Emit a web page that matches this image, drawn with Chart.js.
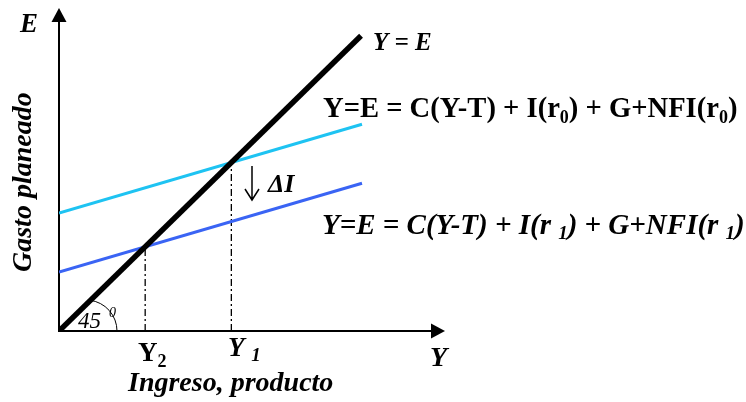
<!DOCTYPE html>
<html>
<head>
<meta charset="utf-8">
<script src="https://cdn.jsdelivr.net/npm/chart.js@4/dist/chart.umd.min.js"></script>
<style>
  html, body { margin: 0; padding: 0; background: #fff; }
  #wrap { width: 746px; height: 402px; }
</style>
</head>
<body>
<div id="wrap"><canvas id="chart" width="746" height="402"></canvas></div>
<script>
// Income (Y) where the planned-expenditure lines start and end
const incomeEnds = [0, 31.4];
// 45 degree line Y = E
const lineYE = [0, 31.3];
// planned expenditure with r0 (cyan) and r1 (blue)
const expenditureR0 = [12.5, 21.92];
const expenditureR1 = [6.25, 15.67];
// equilibrium incomes Y1 and Y2
const equilibrium = [17.86, 8.93];
const axisMax = [40, 34.25];

const serif = "'Liberation Serif', 'Times New Roman', serif";

function pts(xs, ys) {
  return xs.map((x, i) => ({ x: x, y: ys[i] }));
}

// draws a row of text pieces, some of them lowered as subscripts
function drawRuns(ctx, x, y, parts) {
  parts.forEach(p => {
    ctx.font = p.font;
    ctx.fillText(p.t, x, y + (p.dy || 0));
    x += ctx.measureText(p.t).width + (p.gap || 0);
  });
}

const axesPlugin = {
  id: "axes",
  beforeDatasetsDraw(chart) {
    const ctx = chart.ctx;
    const xs = chart.scales.x, ys = chart.scales.y;
    const x0 = xs.getPixelForValue(0), y0 = ys.getPixelForValue(0);
    const xEnd = xs.getPixelForValue(axisMax[0]);
    const yEnd = ys.getPixelForValue(axisMax[1]);

    ctx.save();
    ctx.strokeStyle = "#000";
    ctx.fillStyle = "#000";
    ctx.lineWidth = 2;
    ctx.beginPath();
    ctx.moveTo(x0, y0 + 1);
    ctx.lineTo(x0, yEnd + 10);
    ctx.moveTo(x0 - 1, y0);
    ctx.lineTo(xEnd - 10, y0);
    ctx.stroke();

    // arrow heads
    ctx.beginPath();
    ctx.moveTo(x0, yEnd);
    ctx.lineTo(x0 - 7.5, yEnd + 14);
    ctx.lineTo(x0 + 7.5, yEnd + 14);
    ctx.closePath();
    ctx.fill();
    ctx.beginPath();
    ctx.moveTo(xEnd, y0);
    ctx.lineTo(xEnd - 14, y0 - 7.5);
    ctx.lineTo(xEnd - 14, y0 + 7.5);
    ctx.closePath();
    ctx.fill();

    // 45 degree arc
    ctx.lineWidth = 1;
    ctx.beginPath();
    ctx.arc(x0 + 27, y0, 31, -1.448, 0);
    ctx.stroke();
    ctx.restore();
  },
  afterDraw(chart) {
    const ctx = chart.ctx;
    ctx.save();
    ctx.fillStyle = "#000";
    ctx.textBaseline = "alphabetic";
    ctx.textAlign = "left";

    const bi = s => "italic bold " + s + "px " + serif;
    const b = s => "bold " + s + "px " + serif;

    ctx.font = bi(27);
    ctx.fillText("E", 20, 32);

    ctx.font = bi(25);
    ctx.fillText("Y = E", 373, 50);

    drawRuns(ctx, 323, 117, [
      { t: "Y=E = C(Y-T) + I(r", font: b(28.6) },
      { t: "0", font: b(18), dy: 6 },
      { t: ") + G+NFI(r", font: b(28.6) },
      { t: "0", font: b(18), dy: 6 },
      { t: ")", font: b(28.6) }
    ]);

    drawRuns(ctx, 322, 234, [
      { t: "Y=E = C(Y-T) + I(r ", font: bi(29) },
      { t: "1", font: bi(19), dy: 5 },
      { t: ") + G+NFI(r ", font: bi(29) },
      { t: "1", font: bi(19), dy: 5 },
      { t: ")", font: bi(29) }
    ]);

    // down arrow for the fall in investment
    ctx.strokeStyle = "#000";
    ctx.lineWidth = 1.5;
    ctx.beginPath();
    ctx.moveTo(252, 166);
    ctx.lineTo(252, 200);
    ctx.moveTo(245, 189);
    ctx.lineTo(252, 200);
    ctx.lineTo(259, 189);
    ctx.stroke();
    ctx.font = bi(26);
    ctx.fillText("\u0394I", 268, 192);

    ctx.font = "italic 23px " + serif;
    ctx.fillText("45", 78, 328);
    ctx.font = "italic 14px " + serif;
    ctx.fillText("0", 109, 317);

    drawRuns(ctx, 138, 361, [
      { t: "Y", font: b(27) },
      { t: "2", font: b(18), dy: 6 }
    ]);
    drawRuns(ctx, 228, 356, [
      { t: "Y ", font: bi(27) },
      { t: "1", font: bi(19), dy: 5 }
    ]);

    ctx.font = bi(28);
    ctx.fillText("Y", 430, 366);
    ctx.fillText("Ingreso, producto", 128, 391);

    ctx.save();
    ctx.translate(31, 272);
    ctx.rotate(-Math.PI / 2);
    ctx.fillText("Gasto planeado", 0, 0);
    ctx.restore();

    ctx.restore();
  }
};

const dashDot = [7, 3, 2, 3];

new Chart(document.getElementById("chart"), {
  type: "scatter",
  data: {
    datasets: [
      {
        data: pts(lineYE, lineYE),
        showLine: true,
        borderColor: "#000",
        borderWidth: 5.5,
        pointRadius: 0
      },
      {
        data: pts(incomeEnds, expenditureR0),
        showLine: true,
        borderColor: "#1ec3f2",
        borderWidth: 3,
        pointRadius: 0
      },
      {
        data: pts(incomeEnds, expenditureR1),
        showLine: true,
        borderColor: "#3a64f4",
        borderWidth: 3,
        pointRadius: 0
      },
      {
        data: pts([equilibrium[0], equilibrium[0]], [0, equilibrium[0]]),
        showLine: true,
        borderColor: "#000",
        borderWidth: 1.3,
        borderDash: dashDot,
        pointRadius: 0
      },
      {
        data: pts([equilibrium[1], equilibrium[1]], [0, equilibrium[1]]),
        showLine: true,
        borderColor: "#000",
        borderWidth: 1.3,
        borderDash: dashDot,
        pointRadius: 0
      }
    ]
  },
  options: {
    responsive: false,
    animation: false,
    devicePixelRatio: 1,
    layout: { padding: { left: 59, right: 301, top: 8, bottom: 71 } },
    scales: {
      x: { type: "linear", min: 0, max: axisMax[0], display: false },
      y: { type: "linear", min: 0, max: axisMax[1], display: false }
    },
    plugins: {
      legend: { display: false },
      tooltip: { enabled: false }
    }
  },
  plugins: [axesPlugin]
});
</script>
</body>
</html>
